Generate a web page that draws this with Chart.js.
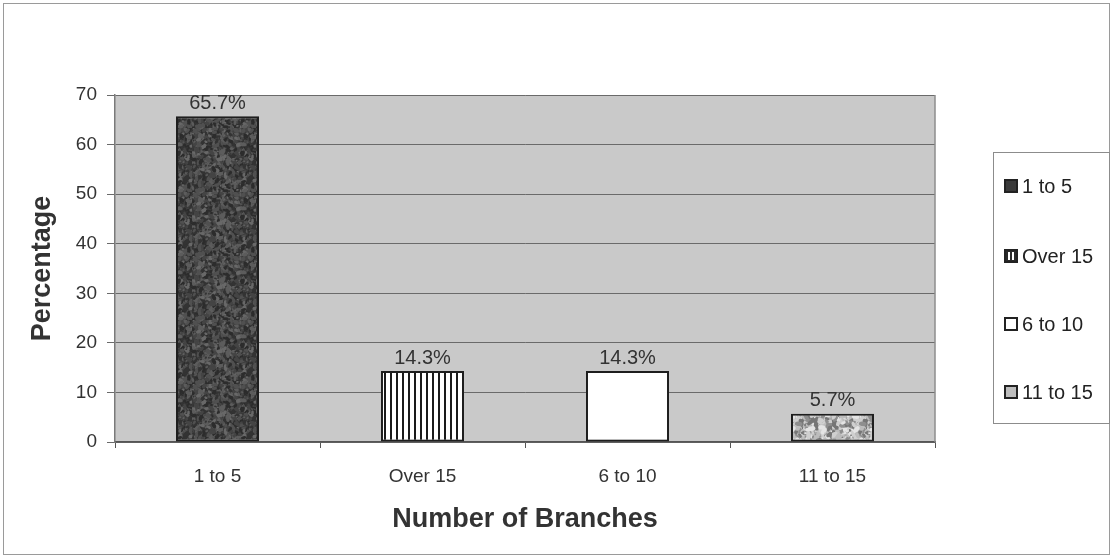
<!DOCTYPE html>
<html>
<head>
<meta charset="utf-8">
<title>Number of Branches</title>
<script src="https://cdn.jsdelivr.net/npm/chart.js@4/dist/chart.umd.min.js"></script>
<style>
  html, body { margin: 0; padding: 0; background: #fff; }
  #wrap { width: 1113px; height: 559px; }
</style>
</head>
<body>
<div id="wrap"><canvas id="chart" width="1113" height="559"></canvas></div>
<script>
// ─────────────────────────────────────────────
//  DATA
// ─────────────────────────────────────────────
const categories = ['1 to 5', 'Over 15', '6 to 10', '11 to 15'];
const percentages = [65.7, 14.3, 14.3, 5.7];
const yTicks = [0, 10, 20, 30, 40, 50, 60, 70];

const FONT = '"Liberation Sans", Arial, Helvetica, sans-serif';

// ─────────────────────────────────────────────
//  FILL PATTERNS
// ─────────────────────────────────────────────
// cheap repeatable hash for the stone textures
function hash(i, j, s) {
  const v = Math.sin(i * 12.9898 + j * 78.233 + s * 37.719) * 43758.5453;
  return v - Math.floor(v);
}

function stonePattern(size, base, shades, seed, blobs, rMax) {
  const c = document.createElement('canvas');
  c.width = c.height = size;
  const g = c.getContext('2d');
  g.fillStyle = base;
  g.fillRect(0, 0, size, size);
  for (let k = 0; k < blobs; k++) {
    const x = hash(k, 1, seed) * size;
    const y = hash(k, 2, seed) * size;
    const r = 0.5 + hash(k, 3, seed) * rMax;
    g.fillStyle = shades[Math.floor(hash(k, 4, seed) * shades.length)];
    g.beginPath();
    g.ellipse(x, y, r * 1.7, r, hash(k, 5, seed) * Math.PI, 0, Math.PI * 2);
    g.fill();
  }
  return g.createPattern(c, 'repeat');
}

function stripePattern() {
  const c = document.createElement('canvas');
  c.width = 6; c.height = 6;
  const g = c.getContext('2d');
  g.fillStyle = '#ffffff';
  g.fillRect(0, 0, 6, 6);
  g.fillStyle = '#1a1a1a';
  g.fillRect(0, 0, 2, 6);
  return g.createPattern(c, 'repeat');
}

const ctx = document.getElementById('chart').getContext('2d');

const fills = [
  stonePattern(64, '#3a3a3a', ['#2c2c2c', '#444444', '#505050', '#5c5c5c', '#333333', '#686868'], 3, 1400, 1.6),
  stripePattern(),
  '#ffffff',
  stonePattern(64, '#a8a8a8', ['#cfcfcf', '#8e8e8e', '#767676', '#bcbcbc', '#e4e4e4'], 7, 900, 2.0)
];

// swatches in the legend box
const swatchFills = ['#3a3a3a', 'stripes', '#ffffff', '#bdbdbd'];

// ─────────────────────────────────────────────
//  PLUGINS
// ─────────────────────────────────────────────
const frame = {
  id: 'frame',
  beforeDraw(chart) {
    const { ctx, chartArea: a } = chart;
    ctx.save();
    ctx.fillStyle = '#ffffff';
    ctx.fillRect(0, 0, chart.width, chart.height);
    ctx.strokeStyle = '#9a9a9a';
    ctx.lineWidth = 1;
    ctx.strokeRect(3.5, 3.5, 1106, 551);
    ctx.fillStyle = '#c9c9c9';
    ctx.fillRect(a.left, a.top, a.right - a.left, a.bottom - a.top);
    ctx.restore();
  },
  beforeDatasetsDraw(chart) {
    const { ctx, chartArea: a } = chart;
    ctx.save();
    ctx.strokeStyle = '#8c8c8c';
    ctx.lineWidth = 1.5;
    ctx.beginPath();
    ctx.moveTo(a.right, a.top);
    ctx.lineTo(a.right, a.bottom);
    ctx.stroke();
    ctx.restore();
  }
};

const valueLabels = {
  id: 'valueLabels',
  afterDatasetsDraw(chart) {
    const { ctx } = chart;
    const meta = chart.getDatasetMeta(0);
    ctx.save();
    ctx.font = '20px ' + FONT;
    ctx.fillStyle = '#333333';
    ctx.textAlign = 'center';
    ctx.textBaseline = 'bottom';
    meta.data.forEach((bar, i) => {
      ctx.fillText(percentages[i].toFixed(1) + '%', bar.x, bar.y - 3);
    });
    ctx.restore();
  }
};

const sideLegend = {
  id: 'sideLegend',
  afterDraw(chart) {
    const { ctx } = chart;
    const box = { x: 993.5, y: 152.5, w: 116, h: 271 };
    const rowY = [186, 256, 324, 392];
    ctx.save();
    ctx.strokeStyle = '#8c8c8c';
    ctx.lineWidth = 1;
    ctx.strokeRect(box.x, box.y, box.w, box.h);
    ctx.font = '20px ' + FONT;
    ctx.textBaseline = 'middle';
    categories.forEach((name, i) => {
      const sx = 1005, sy = rowY[i] - 6, s = 12;
      const f = swatchFills[i];
      if (f === 'stripes') {
        ctx.fillStyle = '#2a2a2a';
        ctx.fillRect(sx, sy, s, s);
        ctx.fillStyle = '#ffffff';
        ctx.fillRect(sx + 3, sy + 2, 2, s - 4);
        ctx.fillRect(sx + 7, sy + 2, 2, s - 4);
      } else {
        ctx.fillStyle = f;
        ctx.fillRect(sx, sy, s, s);
      }
      ctx.strokeStyle = '#222222';
      ctx.lineWidth = 2;
      ctx.strokeRect(sx, sy, s, s);
      ctx.fillStyle = '#222222';
      ctx.fillText(name, 1022, rowY[i] + 1);
    });
    ctx.restore();
  }
};

// ─────────────────────────────────────────────
//  CHART
// ─────────────────────────────────────────────
new Chart(ctx, {
  type: 'bar',
  data: {
    labels: categories,
    datasets: [{
      label: 'Percentage',
      data: percentages,
      backgroundColor: fills,
      borderColor: '#1e1e1e',
      borderWidth: 2,
      borderSkipped: false,
      categoryPercentage: 1,
      barPercentage: 0.405
    }]
  },
  options: {
    responsive: false,
    animation: false,
    events: [],
    layout: { padding: { left: 22, right: 178, top: 95, bottom: 19 } },
    plugins: { legend: { display: false }, tooltip: { enabled: false } },
    scales: {
      x: {
        afterFit: s => { s.height = 98; },
        grid: { offset: true, drawOnChartArea: false, drawTicks: true, tickLength: 6, color: '#555555' },
        border: { color: '#555555', width: 1.5 },
        ticks: { color: '#333333', padding: 17, font: { family: FONT, size: 19 } },
        title: { display: true, text: 'Number of Branches', color: '#333333', padding: 4,
                 font: { family: FONT, size: 27, weight: 'bold' } }
      },
      y: {
        min: 0,
        max: 70,
        afterFit: s => { s.width = 93; },
        afterBuildTicks: s => { s.ticks = yTicks.map(v => ({ value: v })); },
        grid: { color: '#6a6a6a', lineWidth: 1, tickLength: 8 },
        border: { color: '#7a7a7a', width: 1.5 },
        ticks: { color: '#333333', padding: 10, font: { family: FONT, size: 19 } },
        title: { display: true, text: 'Percentage', color: '#333333', padding: 4,
                 font: { family: FONT, size: 27, weight: 'bold' } }
      }
    }
  },
  plugins: [frame, valueLabels, sideLegend]
});
</script>
</body>
</html>
